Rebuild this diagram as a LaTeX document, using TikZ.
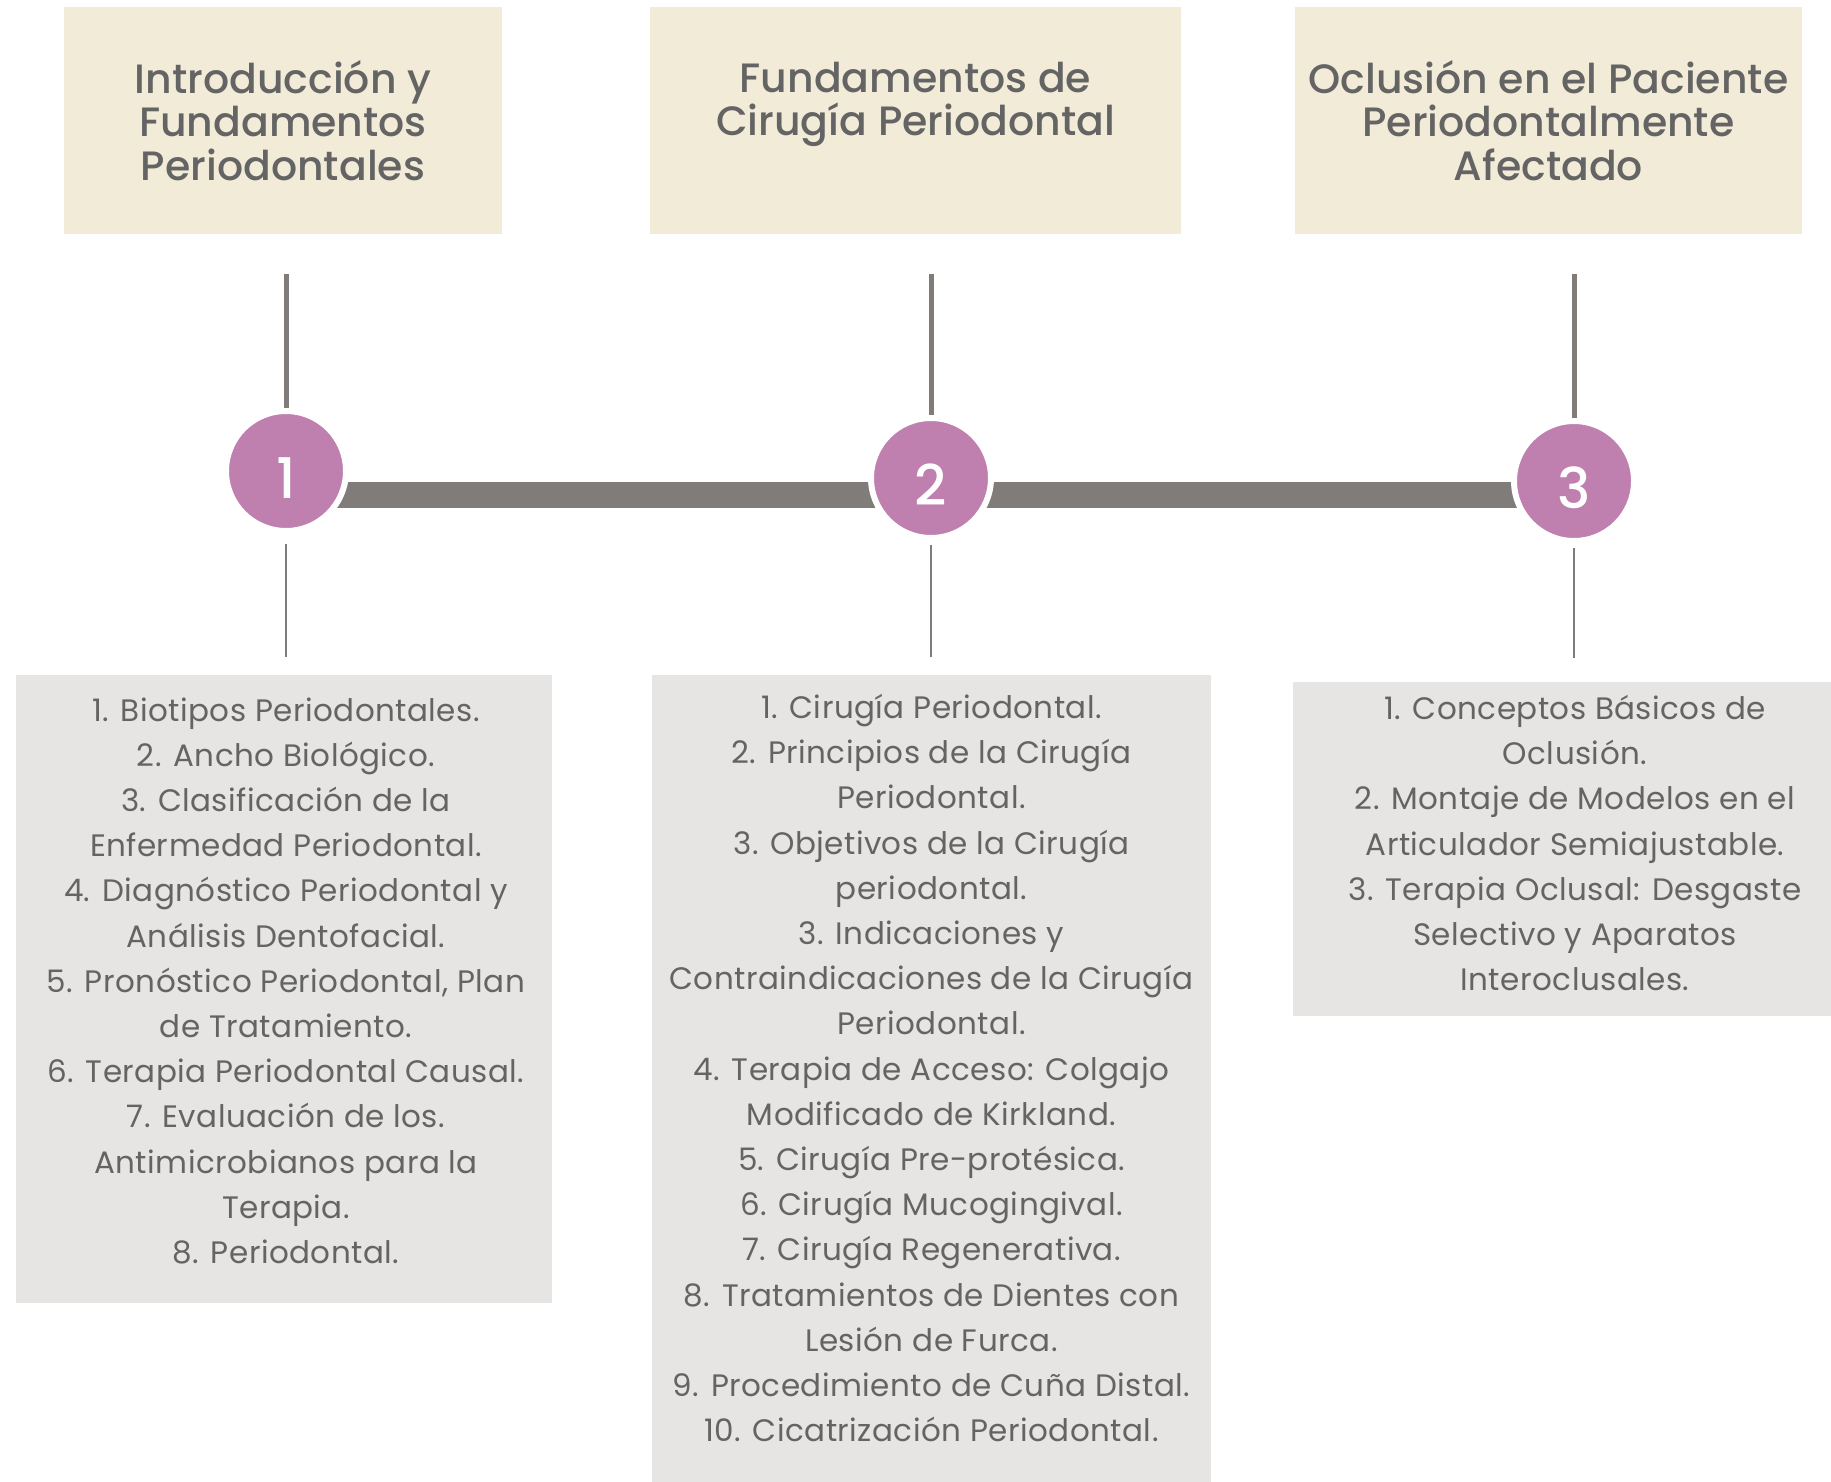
\documentclass[tikz,border=0pt]{standalone}
\usepackage{fontspec}
\setmainfont{Poppins}
\newfontfamily\headfont{Poppins Medium}
\usetikzlibrary{positioning}
\definecolor{beige}{RGB}{242,235,216}
\definecolor{boxgray}{RGB}{230,229,227}
\definecolor{mauve}{RGB}{191,128,175}
\definecolor{bargray}{RGB}{128,124,121}
\definecolor{txtgray}{RGB}{100,100,100}
\tikzset{
  titlebox/.style={fill=beige, text=txtgray, align=center, minimum height=113.5pt,
    font=\headfont\fontsize{20.5}{21.6}\selectfont},
  itembox/.style={fill=boxgray, inner sep=0pt},
  itemtext/.style={text=txtgray, align=center,
    font=\addfontfeature{LetterSpace=1.5}\fontsize{15.5}{22.6}\selectfont},
  numdot/.style={circle, fill=mauve, draw=white, line width=3pt, minimum size=60pt,
    text=white, text height=27pt, text depth=0pt,
    font=\headfont\fontsize{28}{28}\selectfont},
  stem/.style={draw=bargray, line width=2.5pt},
  thinstem/.style={draw=bargray, line width=0.75pt},
}

\begin{document}
\begin{tikzpicture}[x=0.5pt, y=-0.5pt]
  \useasboundingbox (0,0) rectangle (1831,1482);

  % timeline bar
  \coordinate (barL) at (286,495);
  \coordinate (barR) at (1574,495);
  \draw[bargray, line width=13pt] (barL) -- (barR);

  \node[titlebox, minimum width=219pt] (T1) at (283,120.5) {Introducción y\\Fundamentos\\Periodontales};
  \node[titlebox, minimum width=265.5pt] (T2) at (915.5,120.5) {Fundamentos de\\Cirugía Periodontal\\ \mbox{}};
  \node[titlebox, minimum width=253.5pt] (T3) at (1548.5,120.5) {Oclusión en el Paciente\\Periodontalmente\\Afectado};

  \node[numdot] (C1) at (286,471) {1};
  \node[numdot] (C2) at (931,478) {2};
  \node[numdot] (C3) at (1574,481) {3};

  \node[itembox, minimum width=268pt, minimum height=314pt] (I1) at (284,989) {};
  \node[itemtext] (I1txt) at ([xshift=1pt, yshift=4.1pt]I1.center) {%
    1. Biotipos Periodontales.\\
    2. Ancho Biológico.\\
    3. Clasificación de la\\
    Enfermedad Periodontal.\\
    4. Diagnóstico Periodontal y\\
    Análisis Dentofacial.\\
    5. Pronóstico Periodontal, Plan\\
    de Tratamiento.\\
    6. Terapia Periodontal Causal.\\
    7. Evaluación de los.\\
    Antimicrobianos para la\\
    Terapia.\\
    8. Periodontal.};
  \node[itembox, minimum width=279.5pt, minimum height=403.5pt] (I2) at (931.5,1078.5) {};
  \node[itemtext] (I2txt) at ([yshift=5.2pt]I2.center) {%
    1. Cirugía Periodontal.\\
    2. Principios de la Cirugía\\
    Periodontal.\\
    3. Objetivos de la Cirugía\\
    periodontal.\\
    3. Indicaciones y\\
    Contraindicaciones de la Cirugía\\
    Periodontal.\\
    4. Terapia de Acceso: Colgajo\\
    Modificado de Kirkland.\\
    5. Cirugía Pre-protésica.\\
    6. Cirugía Mucogingival.\\
    7. Cirugía Regenerativa.\\
    8. Tratamientos de Dientes con\\
    Lesión de Furca.\\
    9. Procedimiento de Cuña Distal.\\
    10. Cicatrización Periodontal.};
  \node[itembox, minimum width=269pt, minimum height=167pt] (I3) at (1562,849) {};
  \node[itemtext] (I3txt) at ([xshift=6.5pt, yshift=2.9pt]I3.center) {%
    1. Conceptos Básicos de\\
    Oclusión.\\
    2. Montaje de Modelos en el\\
    Articulador Semiajustable.\\
    3. Terapia Oclusal: Desgaste\\
    Selectivo y Aparatos\\
    Interoclusales.};

  \draw[stem] ([yshift=-20pt]C1.north |- T1.south) -- (C1.north);
  \draw[stem] ([yshift=-20pt]C2.north |- T2.south) -- (C2.north);
  \draw[stem] ([yshift=-20pt]C3.north |- T3.south) -- (C3.north);

  \draw[thinstem] ([yshift=-5pt]C1.south) -- ([yshift=9pt]C1.south |- I1.north);
  \draw[thinstem] ([yshift=-2pt]C2.south) -- ([yshift=9pt]C2.south |- I2.north);
  \draw[thinstem] ([yshift=-2pt]C3.south) -- ([yshift=12pt]C3.south |- I3.north);
\end{tikzpicture}
\end{document}
